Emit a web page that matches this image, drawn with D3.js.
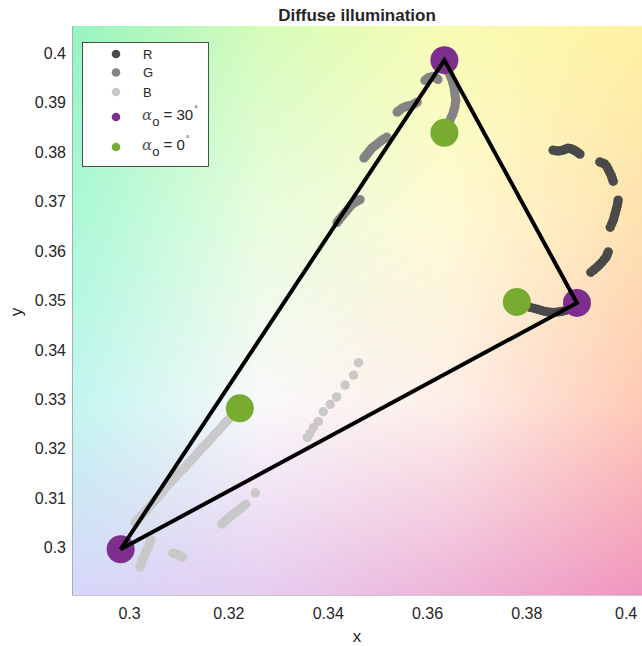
<!DOCTYPE html>
<html><head><meta charset="utf-8">
<script src="https://cdn.jsdelivr.net/npm/d3@7"></script>
<style>
body{margin:0;background:#fff;}
svg{display:block;}
text{font-family:"Liberation Sans",Arial,Helvetica,sans-serif;fill:#262626;}
</style>
</head><body>
<svg id="chart" width="642" height="646"></svg>
<script>
// ---------------- data ----------------
const titleText = "Diffuse illumination";
const xTicks = [0.30, 0.32, 0.34, 0.36, 0.38, 0.40];
const xTickLabels = ["0.3", "0.32", "0.34", "0.36", "0.38", "0.4"];
const yTicks = [0.30, 0.31, 0.32, 0.33, 0.34, 0.35, 0.36, 0.37, 0.38, 0.39, 0.40];
const yTickLabels = ["0.3", "0.31", "0.32", "0.33", "0.34", "0.35", "0.36", "0.37", "0.38", "0.39", "0.4"];

// R channel trace
const rX = [0.3787, 0.3794, 0.3801, 0.3808, 0.3816, 0.3823, 0.3830, 0.3837, 0.3844, 0.3851, 0.3858, 0.3865, 0.3872, 0.3879, 0.3886, 0.3892, 0.3898,
            0.3854, 0.3859, 0.3864, 0.3869, 0.3874, 0.3879, 0.3884, 0.3888, 0.3892, 0.3896, 0.3900, 0.3904, 0.3908,
            0.3948, 0.3953, 0.3958, 0.3962, 0.3965, 0.3968, 0.3971, 0.3973, 0.3975,
            0.3985, 0.3984, 0.3983, 0.3981, 0.3979, 0.3977, 0.3975, 0.3972, 0.3969,
            0.3965, 0.3963, 0.3961, 0.3957, 0.3952, 0.3947, 0.3942, 0.3936, 0.3930];
const rY = [0.3493, 0.3490, 0.3488, 0.3486, 0.3484, 0.3482, 0.3480, 0.3478, 0.3477, 0.3476, 0.3476, 0.3477, 0.3478, 0.3480, 0.3482, 0.3485, 0.3488,
            0.3804, 0.3803, 0.3802, 0.3803, 0.3804, 0.3806, 0.3808, 0.3807, 0.3806, 0.3804, 0.3802, 0.3799, 0.3796,
            0.3780, 0.3778, 0.3776, 0.3771, 0.3765, 0.3759, 0.3753, 0.3747, 0.3741,
            0.3703, 0.3697, 0.3691, 0.3684, 0.3676, 0.3669, 0.3662, 0.3655, 0.3648,
            0.3598, 0.3593, 0.3588, 0.3583, 0.3577, 0.3572, 0.3567, 0.3562, 0.3557];
// G channel trace
const gX = [0.3638, 0.3641, 0.3644, 0.3647, 0.3650, 0.3652, 0.3654, 0.3655, 0.3656, 0.3657, 0.3658, 0.3657, 0.3656, 0.3654, 0.3652, 0.3649, 0.3646, 0.3643, 0.3640,
            0.3596, 0.3600, 0.3604, 0.3609, 0.3614, 0.3618, 0.3622,
            0.3540, 0.3545, 0.3550, 0.3555, 0.3560, 0.3565, 0.3570, 0.3575, 0.3580,
            0.3473, 0.3477, 0.3481, 0.3485, 0.3489, 0.3494, 0.3499, 0.3504, 0.3509, 0.3514, 0.3519,
            0.3419, 0.3423, 0.3427, 0.3432, 0.3437, 0.3442, 0.3447, 0.3452, 0.3457, 0.3461, 0.3465];
const gY = [0.3974, 0.3968, 0.3961, 0.3954, 0.3947, 0.3940, 0.3933, 0.3926, 0.3919, 0.3912, 0.3905, 0.3898, 0.3891, 0.3884, 0.3877, 0.3871, 0.3864, 0.3858, 0.3852,
            0.3945, 0.3948, 0.3951, 0.3952, 0.3953, 0.3950, 0.3947,
            0.3881, 0.3885, 0.3889, 0.3891, 0.3893, 0.3894, 0.3895, 0.3898, 0.3901,
            0.3788, 0.3793, 0.3798, 0.3803, 0.3808, 0.3812, 0.3816, 0.3820, 0.3824, 0.3827, 0.3830,
            0.3658, 0.3663, 0.3668, 0.3674, 0.3680, 0.3686, 0.3692, 0.3696, 0.3700, 0.3702, 0.3704];
// B channel trace
const bX = [0.3216, 0.3211, 0.3206, 0.3201, 0.3196, 0.3191, 0.3186, 0.3181, 0.3176, 0.3171, 0.3166, 0.3161, 0.3156, 0.3151, 0.3146, 0.3141, 0.3136, 0.3131, 0.3126, 0.3121, 0.3116, 0.3111,
            0.3105, 0.3100, 0.3095, 0.3090, 0.3085, 0.3080, 0.3075, 0.3070, 0.3065, 0.3060, 0.3055, 0.3050, 0.3045, 0.3040, 0.3035, 0.3030, 0.3025, 0.3020, 0.3016, 0.3012,
            0.3254, 0.3235, 0.3230, 0.3225, 0.3220, 0.3215, 0.3210, 0.3205, 0.3200, 0.3195, 0.3191, 0.3187,
            0.3044, 0.3041, 0.3038, 0.3035, 0.3032, 0.3029, 0.3026, 0.3024, 0.3022,
            0.3088, 0.3093, 0.3098, 0.3103, 0.3107,
            0.3462, 0.3452, 0.3435, 0.3418, 0.3405, 0.3391, 0.3381, 0.3371, 0.3364, 0.3359];
const bY = [0.3276, 0.3270, 0.3265, 0.3260, 0.3255, 0.3250, 0.3244, 0.3238, 0.3233, 0.3228, 0.3222, 0.3216, 0.3211, 0.3206, 0.3201, 0.3195, 0.3189, 0.3183, 0.3178, 0.3173, 0.3167, 0.3161,
            0.3156, 0.3151, 0.3145, 0.3139, 0.3134, 0.3129, 0.3123, 0.3117, 0.3110, 0.3104, 0.3099, 0.3094, 0.3088, 0.3082, 0.3076, 0.3070, 0.3065, 0.3060, 0.3055, 0.3050,
            0.3111, 0.3088, 0.3084, 0.3080, 0.3076, 0.3072, 0.3068, 0.3064, 0.3060, 0.3056, 0.3052, 0.3048,
            0.3016, 0.3008, 0.3001, 0.2994, 0.2987, 0.2980, 0.2973, 0.2967, 0.2961,
            0.2989, 0.2988, 0.2987, 0.2984, 0.2981,
            0.3374, 0.3349, 0.3329, 0.3305, 0.3290, 0.3275, 0.3255, 0.3243, 0.3231, 0.3223];

// endpoints: order R, G, B
const alpha30X = [0.3902, 0.3635, 0.2983];
const alpha30Y = [0.3495, 0.3986, 0.2997];
const alpha0X  = [0.3781, 0.3635, 0.3223];
const alpha0Y  = [0.3497, 0.3839, 0.3282];

const channelNames = ["R", "G", "B"];
const alphaValues = [30, 0];

// ---------------- style ----------------
const channelColors = ["#4a4a4a", "#848484", "#c9c9c9"];
const purple = "#7E2F8E", green = "#77AC30";
// background tint grid (rows top->bottom, cols left->right)
const bgGrid = [
  [[150,244,192],[213,252,186],[248,252,178],[255,242,163]],
  [[170,249,215],[232,253,222],[255,250,212],[255,226,176]],
  [[194,246,240],[250,248,250],[253,238,232],[255,202,182]],
  [[215,215,250],[230,205,240],[238,180,216],[240,150,190]]
];

const svg = d3.select("#chart");
const x = d3.scaleLinear().domain([0.2885, 0.4033]).range([72, 642]);
const y = d3.scaleLinear().domain([0.29045, 0.4055]).range([595, 26]);

// background
(function(){
  const x0 = 72, y0 = 26, bw = 570, bh = 569;
  const cv = document.createElement("canvas"); cv.width = bw; cv.height = bh;
  const ctx = cv.getContext("2d");
  const img = ctx.createImageData(bw, bh);
  const n = bgGrid.length - 1;
  for (let j = 0; j < bh; j++) {
    const fy = j / (bh - 1) * n; const r0 = Math.min(n - 1, Math.floor(fy)); const ty = fy - r0;
    for (let i = 0; i < bw; i++) {
      const fx = i / (bw - 1) * n; const c0 = Math.min(n - 1, Math.floor(fx)); const tx = fx - c0;
      const p = (j * bw + i) * 4;
      for (let k = 0; k < 3; k++) {
        const v = (1 - ty) * ((1 - tx) * bgGrid[r0][c0][k] + tx * bgGrid[r0][c0 + 1][k]) +
                  ty * ((1 - tx) * bgGrid[r0 + 1][c0][k] + tx * bgGrid[r0 + 1][c0 + 1][k]);
        img.data[p + k] = v;
      }
      img.data[p + 3] = 255;
    }
  }
  ctx.putImageData(img, 0, 0);
  svg.append("image").attr("x", x0).attr("y", y0).attr("width", bw).attr("height", bh)
     .attr("preserveAspectRatio", "none").attr("href", cv.toDataURL());
})();

// axes
const yAxis = svg.append("g").attr("transform", "translate(72,0)")
  .call(d3.axisLeft(y).tickValues(yTicks).tickFormat((d, i) => yTickLabels[i]).tickSize(0).tickPadding(6));
const xAxis = svg.append("g").attr("transform", "translate(0,595)")
  .call(d3.axisBottom(x).tickValues(xTicks).tickFormat((d, i) => xTickLabels[i]).tickSize(0).tickPadding(13));
[yAxis, xAxis].forEach(a => {
  a.select(".domain").remove();
  a.selectAll("text").style("font-size", "16px").attr("fill", "#262626")
   .style("font-family", '"Liberation Sans",Arial,sans-serif');
});
svg.append("line").attr("x1", 72.5).attr("x2", 72.5).attr("y1", 26).attr("y2", 595.5)
  .attr("stroke", "#a9abb8").attr("stroke-width", 1);
svg.append("line").attr("x1", 72).attr("x2", 642).attr("y1", 595.5).attr("y2", 595.5)
  .attr("stroke", "#c8c8d0").attr("stroke-width", 1);

// title & labels
svg.append("text").attr("x", 357).attr("y", 20.5).attr("text-anchor", "middle")
  .style("font-size", "17px").style("font-weight", "bold").attr("fill", "#000").text(titleText);
svg.append("text").attr("x", 357).attr("y", 642).attr("text-anchor", "middle")
  .style("font-size", "17px").text("x");
svg.append("text").attr("transform", "translate(22,312) rotate(-90)").attr("text-anchor", "middle")
  .style("font-size", "17px").text("y");

// traces
const traces = [[bX, bY], [gX, gY], [rX, rY]];
const traceColors = [channelColors[2], channelColors[1], channelColors[0]];
traces.forEach((t, c) => {
  svg.append("g").selectAll("circle").data(t[0].map((v, i) => [v, t[1][i]])).join("circle")
    .attr("cx", d => x(d[0])).attr("cy", d => y(d[1])).attr("r", 4.7)
    .attr("fill", traceColors[c]);
});

// endpoints
svg.append("g").selectAll("circle").data(alpha0X.map((v, i) => [v, alpha0Y[i]])).join("circle")
  .attr("cx", d => x(d[0])).attr("cy", d => y(d[1])).attr("r", 14).attr("fill", green);
svg.append("g").selectAll("circle").data(alpha30X.map((v, i) => [v, alpha30Y[i]])).join("circle")
  .attr("cx", d => x(d[0])).attr("cy", d => y(d[1])).attr("r", 14).attr("fill", purple);

// triangle
svg.append("path")
  .attr("d", d3.line().x(d => x(d[0])).y(d => y(d[1]))(alpha30X.map((v, i) => [v, alpha30Y[i]])) + "Z")
  .attr("fill", "none").attr("stroke", "#000").attr("stroke-width", 4).attr("stroke-linejoin", "miter");

// legend
const lg = svg.append("g");
lg.append("rect").attr("x", 82.5).attr("y", 42.5).attr("width", 126).attr("height", 124)
  .attr("fill", "#fff").attr("stroke", "#262626").attr("stroke-width", 0.8);
const rowY = [54, 72.5, 92, 117, 147];
channelNames.forEach((nm, i) => {
  lg.append("circle").attr("cx", 116).attr("cy", rowY[i]).attr("r", 4.3).attr("fill", channelColors[i]);
  lg.append("text").attr("x", 143).attr("y", rowY[i]).attr("dy", "0.36em").style("font-size", "13px").text(nm);
});
alphaValues.forEach((a, i) => {
  const yy = rowY[3 + i];
  lg.append("circle").attr("cx", 116).attr("cy", yy).attr("r", 4.3).attr("fill", i === 0 ? purple : green);
  const t = lg.append("text").attr("x", 142).attr("y", yy + 3).style("font-size", "15px");
  t.append("tspan").style("font-family", '"DejaVu Serif",serif').style("font-style", "italic").attr("fill", "#555").text("α");
  t.append("tspan").attr("dy", 6).style("font-size", "13px").text("o");
  t.append("tspan").attr("dy", -6).text(" = " + a);
  t.append("tspan").attr("dy", -8).attr("dx", 1).style("font-size", "9px").text("°");
});
</script>
</body></html>
